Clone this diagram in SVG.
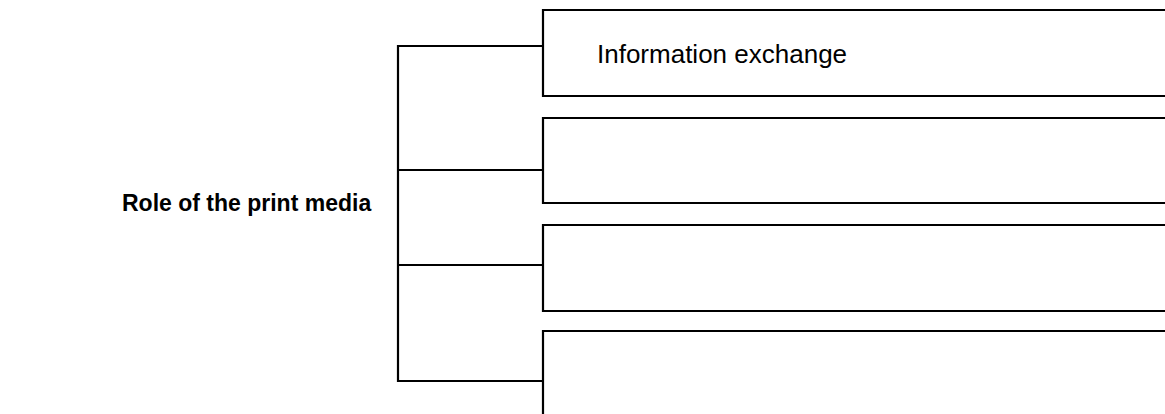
<svg xmlns="http://www.w3.org/2000/svg" width="1165" height="414" viewBox="0 0 1165 414">
<style>
.ln{fill:none;stroke:#000;stroke-width:2.2}
.t{font-family:"Liberation Sans",Arial,sans-serif;fill:#000}
</style>
<rect width="1165" height="414" fill="#fff"/>
<g id="root"><text class="t" x="122" y="211" font-size="23" font-weight="bold">Role of the print media</text></g>
<g id="box1"><path class="ln" d="M1167,10 H543 V96 H1167"/><text class="t" x="597" y="63" font-size="26">Information exchange</text></g>
<g id="box2"><path class="ln" d="M1167,118 H543 V203 H1167"/></g>
<g id="box3"><path class="ln" d="M1167,225 H543 V311 H1167"/></g>
<g id="box4"><path class="ln" d="M1167,331 H543 V416"/></g>
<g id="connectors">
<path class="ln" d="M543,46 H398 V381 H543"/>
<path class="ln" d="M398,170 H543"/>
<path class="ln" d="M398,265 H543"/>
</g>
</svg>
